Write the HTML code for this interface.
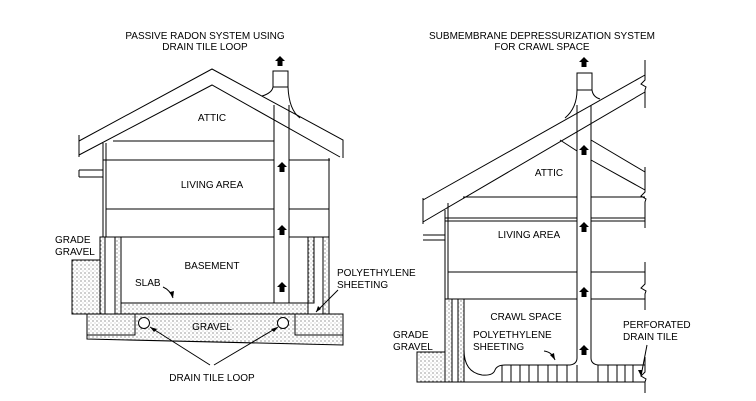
<!DOCTYPE html>
<html><head><meta charset="utf-8"><style>
html,body{margin:0;padding:0;background:#fff;width:756px;height:401px;overflow:hidden}
svg text{font-family:"Liberation Sans",sans-serif;font-size:10px;fill:#000}
</style></head><body>
<svg width="756" height="401" viewBox="0 0 756 401" xmlns="http://www.w3.org/2000/svg">
<defs>
<pattern id="d" width="4" height="4" patternUnits="userSpaceOnUse"><rect width="4" height="4" fill="#fff"/><circle cx="1" cy="1" r="0.5" fill="#000"/><circle cx="3" cy="3" r="0.4" fill="#555"/></pattern>
<path id="ar" d="M0,-6 L-5,-1 L-2.5,-1 L-2.5,4 L2.5,4 L2.5,-1 L5,-1 Z" fill="#000"/>
</defs>
<g fill="none" stroke="#000" stroke-width="1">
<path d="M79,141 L212,69 L343,140 L343,158"/>
<path d="M79,155 L212,85 L340,157"/>
<path d="M79,135 L79,157"/>
<path d="M113,141 L274,141"/>
<path d="M103,160 L274,160 M289,160 L330,160"/>
<path d="M103,143 L103,237 M106,143 L106,237"/>
<path d="M329,158 L329,237"/>
<path d="M106,209 L274,209 M289,209 L329,209"/>
<path d="M100,237 L274,237 M289,237 L329,237"/>
<path d="M79,170 L103,170 M79,177 L103,177 M79,170 L79,177"/>
<path d="M273,71 L288,71 L288,87 L273,87 Z"/>
<path d="M273,87 Q272,93 262,96"/>
<path d="M288,87 Q289,110 300,118"/>
<path d="M274,105 L274,313 M289,105 L289,313"/>
<rect x="100" y="237" width="5" height="77" fill="url(#d)"/>
<rect x="115" y="237" width="6" height="77" fill="url(#d)"/>
<rect x="308" y="237" width="6" height="66" fill="url(#d)"/>
<rect x="323" y="237" width="6" height="77" fill="url(#d)"/>
<rect x="72" y="260" width="28" height="54" fill="url(#d)"/>
<rect x="121" y="303" width="187" height="11" fill="url(#d)"/>
<path d="M87,314 L343,314 L343,345 L87,339 Z" fill="url(#d)"/>
<path d="M87,335 L135,335 L135,314 M295,314 L295,335 L343,335"/>
<circle cx="144" cy="323" r="5.5" fill="#fff"/>
<circle cx="283" cy="323" r="5.5" fill="#fff"/>
<path d="M210,365 L150,327 M214,365 L278,327"/>
<path d="M163,287 Q170,290 173,298"/>
<path d="M338,290 L316,312"/>
<path d="M423,200 L645,75"/>
<path d="M423,222 L645,92"/>
<path d="M423,198 L423,224"/>
<path d="M645,60 L645,80 L641,84 L646,87 L645,90 L645,108"/>
<path d="M645,167 L645,192 L641,196 L646,199 L645,202 L645,228"/>
<path d="M645,262 L645,284 L641,288 L646,291 L645,294 L645,310"/>
<path d="M645,357 L645,372 L641,376 L646,379 L645,382 L645,393"/>
<path d="M560,140 L577,151 M591,140 L645,172 M591,160 L645,190"/>
<path d="M463,197 L577,197 M591,197 L645,197"/>
<path d="M445,218 L577,218 M591,218 L645,218 M445,221 L577,221 M591,221 L645,221"/>
<path d="M445,210 L445,299 M448,203 L448,299"/>
<path d="M423,235 L445,235 M423,240 L445,240"/>
<path d="M448,272 L577,272 M591,272 L645,272"/>
<path d="M445,299 L577,299 M591,299 L645,299"/>
<path d="M577,73 L592,73 L592,90 L577,90 Z"/>
<path d="M577,90 Q577,108 565,118"/>
<path d="M592,90 Q593,97 600,99"/>
<path d="M577,105 L577,358 Q577,364 570,365 M591,105 L591,358 Q591,364 598,365"/>
<rect x="445" y="299" width="7" height="83" fill="url(#d)"/>
<rect x="458" y="299" width="6" height="83" fill="url(#d)"/>
<rect x="417" y="352" width="28" height="30" fill="url(#d)"/>
<path d="M445,382 L645,382"/>
<path d="M464,350 Q464,372 482,375 Q493,376 495,370 Q497,365 505,365 L570,365 M598,365 L645,365"/>
<path d="M502,365V382M511,365V382M520,365V382M529,365V382M538,365V382M548,365V382M557,365V382M567,365V382M577,365V382M598,365V382M608,365V382M617,365V382M625,365V382M633,365V382"/>
<path d="M544,351 Q552,352 555,360"/>
<path d="M647,345 L641,376"/>
</g>
<g fill="#000">
<use href="#ar" x="280" y="62"/>
<use href="#ar" x="282" y="168"/>
<use href="#ar" x="282" y="231"/>
<use href="#ar" x="282" y="288"/>
<use href="#ar" x="584" y="63"/>
<use href="#ar" x="584" y="151"/>
<use href="#ar" x="584" y="228"/>
<use href="#ar" x="584" y="293"/>
<use href="#ar" x="584" y="351"/>
<path d="M150,327 l7,2 l-3,3 Z M278,327 l-7,2 l3,3 Z M173,298 l-3,-6 l4,-1 Z M316,312 l2,-6 l3,3 Z M555,360 l-5,-5 l4,-2 Z M641,376 l-3,-6 l4,0 Z"/>
</g>
<g text-anchor="middle">
<text x="205" y="39">PASSIVE RADON SYSTEM USING</text>
<text x="205" y="50">DRAIN TILE LOOP</text>
<text x="212" y="121">ATTIC</text>
<text x="212" y="188">LIVING AREA</text>
<text x="212" y="269">BASEMENT</text>
<text x="212" y="330">GRAVEL</text>
<text x="212" y="381">DRAIN TILE LOOP</text>
<text x="542" y="39">SUBMEMBRANE DEPRESSURIZATION SYSTEM</text>
<text x="542" y="50">FOR CRAWL SPACE</text>
<text x="549" y="176">ATTIC</text>
<text x="529" y="238">LIVING AREA</text>
<text x="526" y="320">CRAWL SPACE</text>
</g>
<text x="55" y="243">GRADE</text>
<text x="55" y="255">GRAVEL</text>
<text x="135" y="286">SLAB</text>
<text x="337" y="276">POLYETHYLENE</text>
<text x="337" y="288">SHEETING</text>
<text x="393" y="338">GRADE</text>
<text x="393" y="350">GRAVEL</text>
<text x="473" y="338">POLYETHYLENE</text>
<text x="473" y="350">SHEETING</text>
<text x="623" y="328">PERFORATED</text>
<text x="623" y="340">DRAIN TILE</text>
</svg>
</body></html>
